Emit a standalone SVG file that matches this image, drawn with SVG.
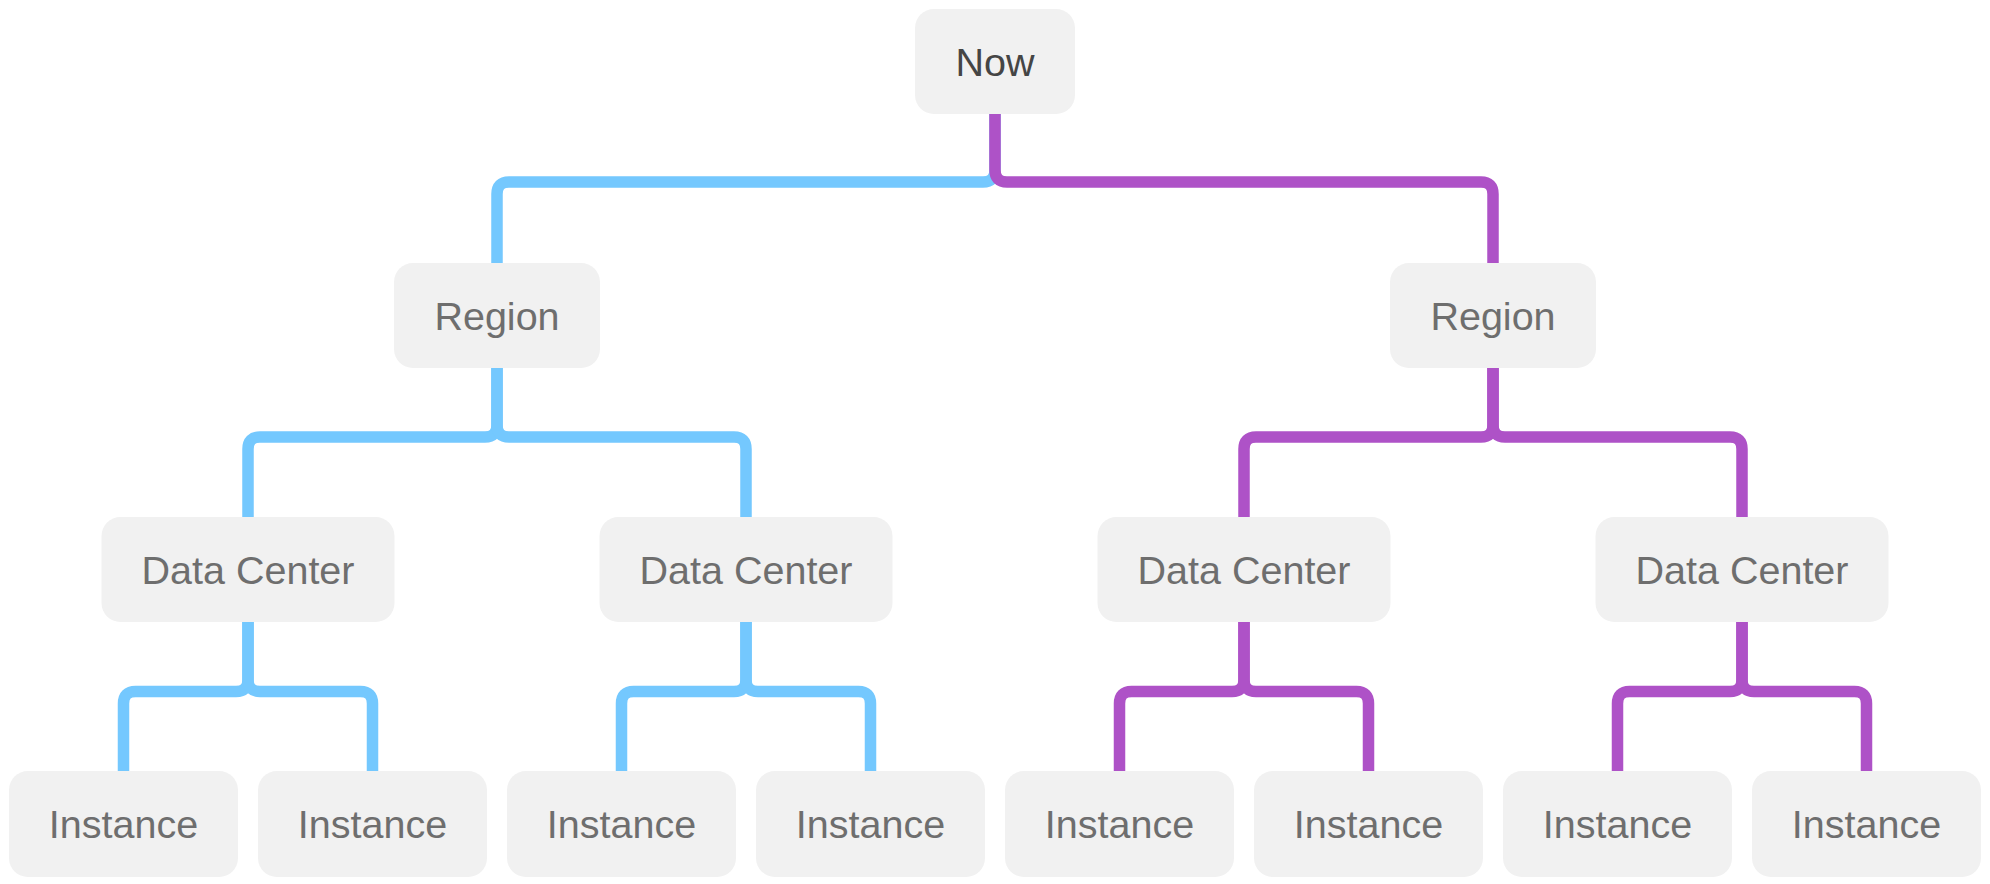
<svg xmlns="http://www.w3.org/2000/svg" width="1990" height="884" viewBox="0 0 1990 884">
<style>
.box{fill:#F1F1F1}
.t{font-family:"Liberation Sans",Arial,Helvetica,sans-serif;font-size:39.5px;fill:#6E6E6E;text-anchor:middle}
.root{fill:#454545}
.c{fill:none;stroke-width:11.5;stroke-linecap:butt;stroke-linejoin:round}
.b{stroke:#74C8FE}
.p{stroke:#AE52C7}
</style>
<rect width="1990" height="884" fill="#FFFFFF"/>
<g id="connectors">
<path class="c b" d="M995 114 V170 Q995 182 983 182 H509 Q497 182 497 194 V263"/>
<path class="c p" d="M995 114 V170 Q995 182 1007 182 H1481 Q1493 182 1493 194 V263"/>
<path class="c b" d="M497 368 V425 Q497 437 485 437 H260 Q248 437 248 449 V517"/>
<path class="c b" d="M497 368 V425 Q497 437 509 437 H734 Q746 437 746 449 V517"/>
<path class="c p" d="M1493 368 V425 Q1493 437 1481 437 H1256 Q1244 437 1244 449 V517"/>
<path class="c p" d="M1493 368 V425 Q1493 437 1505 437 H1730 Q1742 437 1742 449 V517"/>
<path class="c b" d="M248 622 V679.5 Q248 691.5 236 691.5 H135.5 Q123.5 691.5 123.5 703.5 V771"/>
<path class="c b" d="M248 622 V679.5 Q248 691.5 260 691.5 H360.5 Q372.5 691.5 372.5 703.5 V771"/>
<path class="c b" d="M746 622 V679.5 Q746 691.5 734 691.5 H633.5 Q621.5 691.5 621.5 703.5 V771"/>
<path class="c b" d="M746 622 V679.5 Q746 691.5 758 691.5 H858.5 Q870.5 691.5 870.5 703.5 V771"/>
<path class="c p" d="M1244 622 V679.5 Q1244 691.5 1232 691.5 H1131.5 Q1119.5 691.5 1119.5 703.5 V771"/>
<path class="c p" d="M1244 622 V679.5 Q1244 691.5 1256 691.5 H1356.5 Q1368.5 691.5 1368.5 703.5 V771"/>
<path class="c p" d="M1742 622 V679.5 Q1742 691.5 1730 691.5 H1629.5 Q1617.5 691.5 1617.5 703.5 V771"/>
<path class="c p" d="M1742 622 V679.5 Q1742 691.5 1754 691.5 H1854.5 Q1866.5 691.5 1866.5 703.5 V771"/>
</g>
<g id="now"><rect class="box" x="915" y="9" width="160" height="105" rx="19"/><text class="t root" x="995" y="75.5">Now</text></g>
<g id="region1"><rect class="box" x="394" y="263" width="206" height="105" rx="19"/><text class="t" x="497" y="330">Region</text></g>
<g id="region2"><rect class="box" x="1390" y="263" width="206" height="105" rx="19"/><text class="t" x="1493" y="330">Region</text></g>
<g id="dc1"><rect class="box" x="101.5" y="517" width="293" height="105" rx="19"/><text class="t" x="248" y="584">Data Center</text></g>
<g id="dc2"><rect class="box" x="599.5" y="517" width="293" height="105" rx="19"/><text class="t" x="746" y="584">Data Center</text></g>
<g id="dc3"><rect class="box" x="1097.5" y="517" width="293" height="105" rx="19"/><text class="t" x="1244" y="584">Data Center</text></g>
<g id="dc4"><rect class="box" x="1595.5" y="517" width="293" height="105" rx="19"/><text class="t" x="1742" y="584">Data Center</text></g>
<g id="inst1"><rect class="box" x="9" y="771" width="229" height="106" rx="19"/><text class="t" x="123.5" y="838">Instance</text></g>
<g id="inst2"><rect class="box" x="258" y="771" width="229" height="106" rx="19"/><text class="t" x="372.5" y="838">Instance</text></g>
<g id="inst3"><rect class="box" x="507" y="771" width="229" height="106" rx="19"/><text class="t" x="621.5" y="838">Instance</text></g>
<g id="inst4"><rect class="box" x="756" y="771" width="229" height="106" rx="19"/><text class="t" x="870.5" y="838">Instance</text></g>
<g id="inst5"><rect class="box" x="1005" y="771" width="229" height="106" rx="19"/><text class="t" x="1119.5" y="838">Instance</text></g>
<g id="inst6"><rect class="box" x="1254" y="771" width="229" height="106" rx="19"/><text class="t" x="1368.5" y="838">Instance</text></g>
<g id="inst7"><rect class="box" x="1503" y="771" width="229" height="106" rx="19"/><text class="t" x="1617.5" y="838">Instance</text></g>
<g id="inst8"><rect class="box" x="1752" y="771" width="229" height="106" rx="19"/><text class="t" x="1866.5" y="838">Instance</text></g>
</svg>
